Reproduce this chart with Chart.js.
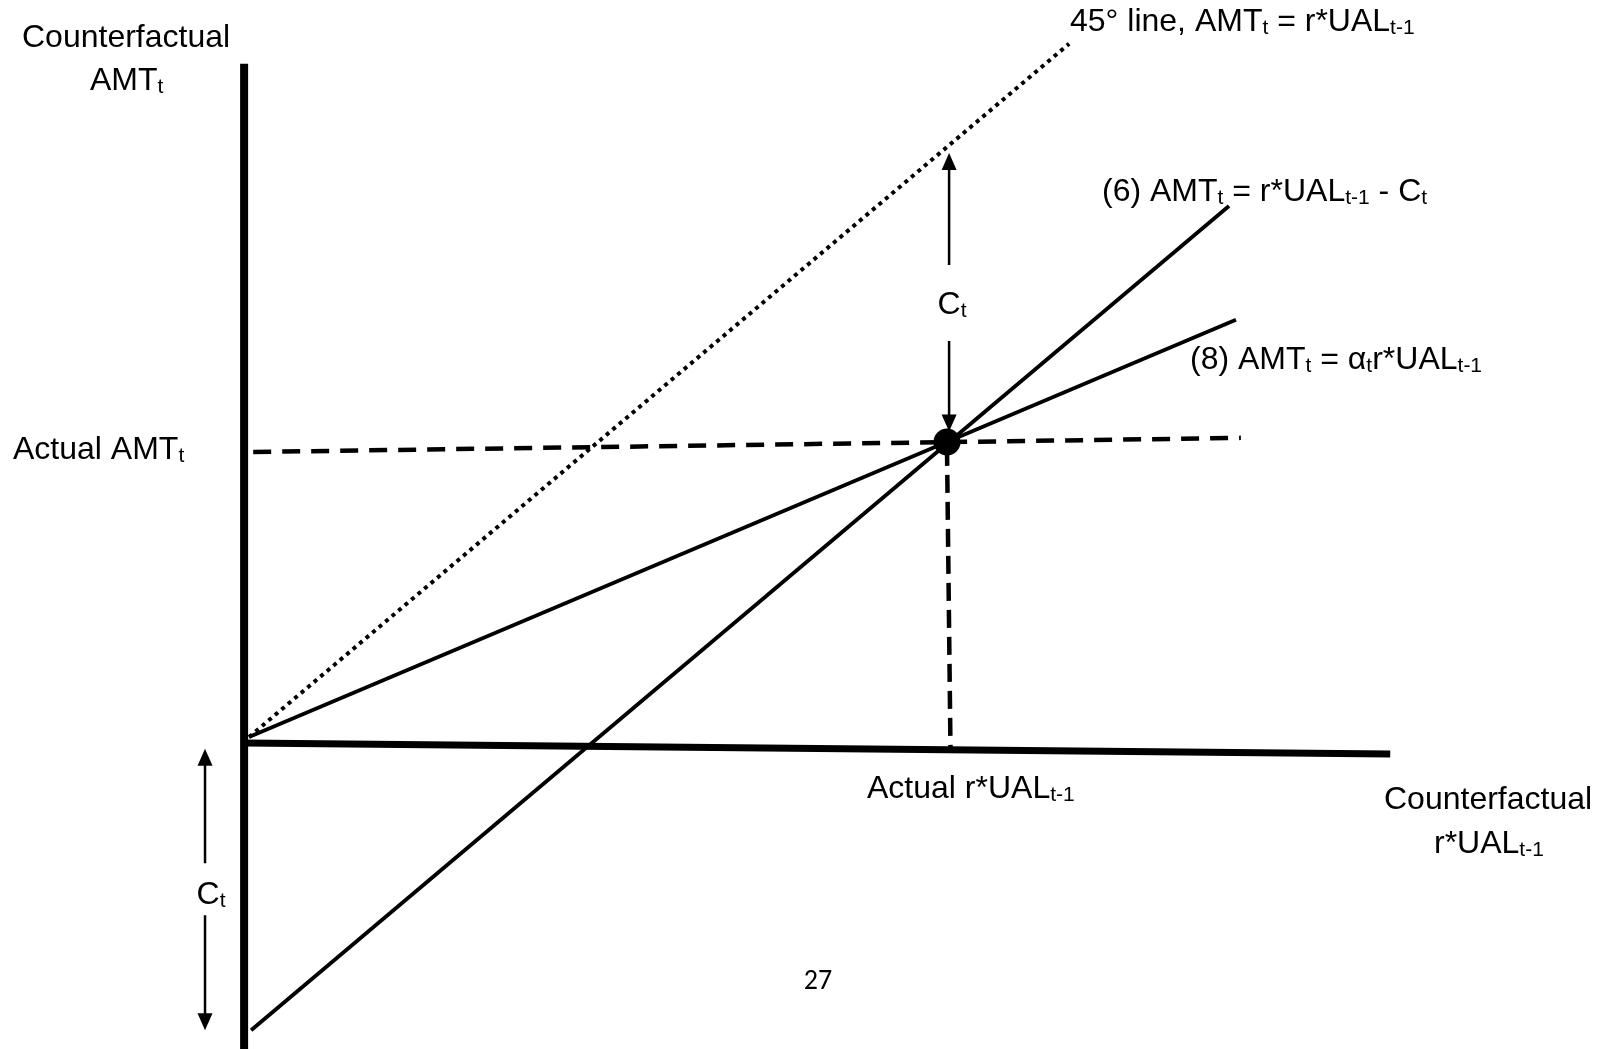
<!DOCTYPE html>
<html><head><meta charset="utf-8">
<script src="https://cdn.jsdelivr.net/npm/chart.js@4.4.0/dist/chart.umd.min.js"></script>
<style>html,body{margin:0;padding:0;background:#fff;overflow:hidden}#wrap{width:1608px;height:1049px;position:relative}</style>
</head><body><div id="wrap"><canvas id="c" width="1608" height="1049"></canvas></div>
<script>
// Diagram values (x = r*UAL(t-1), y = AMT(t))
const actualRUAL = 10;
const actualAMT = 5;
const line45X = [0, 11.75];
const line45Y = [0, 11.75];
const line6X = [0.03, 14.04];
const line6Y = [-4.97, 9.0];
const line8X = [0, 14.14];
const line8Y = [0, 7.07];
const yAxisX = [-0.07, -0.07];
const yAxisY = [11.41, -5.3];
const xAxisX = [-0.07, 16.35];
const xAxisY = [-0.1, -0.29];
const amtGuideX = [0.06, 14.21];
const amtGuideY = [4.83, 5.07];
const rualGuideX = [10, 10.05];
const rualGuideY = [4.9, -0.2];
// double-headed arrows: x, top tip, bottom tip, label gap top/bottom
const arrowUpperX = 10.03, arrowUpperY = [9.9, 5.18], arrowUpperGap = [8.0, 6.71];
const arrowLeftX = -0.63, arrowLeftY = [-0.2, -4.97], arrowLeftGap = [-2.14, -3.02];

const pts = (xs, ys) => xs.map((x, i) => ({x, y: ys[i]}));

const FONT = '"Liberation Sans", Arial, sans-serif';
// labels: segments [text, isSub], pixel anchor, align
const labels = [
  {segs: [['Counterfactual', 0]], x: 22, y: 47, align: 'left'},
  {segs: [['AMT', 0], ['t', 1]], x: 90, y: 90, align: 'left'},
  {segs: [['45° line, AMT', 0], ['t', 1], [' = r*UAL', 0], ['t-1', 1]], x: 1070, y: 31, align: 'left'},
  {segs: [['(6) AMT', 0], ['t', 1], [' = r*UAL', 0], ['t-1', 1], [' - C', 0], ['t', 1]], x: 1102, y: 201, align: 'left'},
  {segs: [['C', 0], ['t', 1]], x: 952, y: 314, align: 'center'},
  {segs: [['(8) AMT', 0], ['t', 1], [' = α', 0], ['t', 1], ['r*UAL', 0], ['t-1', 1]], x: 1190, y: 369, align: 'left'},
  {segs: [['Actual AMT', 0], ['t', 1]], x: 13, y: 459, align: 'left'},
  {segs: [['Actual r*UAL', 0], ['t-1', 1]], x: 867, y: 798, align: 'left'},
  {segs: [['Counterfactual', 0]], x: 1384, y: 809, align: 'left'},
  {segs: [['r*UAL', 0], ['t-1', 1]], x: 1434, y: 853, align: 'left'},
  {segs: [['C', 0], ['t', 1]], x: 211, y: 904, align: 'center'},
];
const pageNumber = '27';

function drawRich(ctx, segs, x, y, align) {
  let w = 0;
  segs.forEach(([t, s]) => { ctx.font = (s ? '21px ' : '32px ') + FONT; w += ctx.measureText(t).width; });
  let cx = align === 'center' ? x - w / 2 : (align === 'right' ? x - w : x);
  ctx.textAlign = 'left'; ctx.textBaseline = 'alphabetic';
  segs.forEach(([t, s]) => {
    ctx.font = (s ? '21px ' : '32px ') + FONT;
    ctx.fillText(t, cx, s ? y + 3 : y);
    cx += ctx.measureText(t).width;
  });
}

function head(ctx, x, y, dir) {
  const hw = 7.5, hl = 17;
  ctx.beginPath();
  ctx.moveTo(x, y);
  ctx.lineTo(x - hw, y - dir * hl);
  ctx.lineTo(x + hw, y - dir * hl);
  ctx.closePath();
  ctx.fill();
}

const overlay = {
  id: 'overlay',
  afterDatasetsDraw(chart) {
    const ctx = chart.ctx, xs = chart.scales.x, ys = chart.scales.y;
    ctx.save();
    ctx.fillStyle = '#000'; ctx.strokeStyle = '#000'; ctx.lineWidth = 2.5;
    [[arrowUpperX, arrowUpperY, arrowUpperGap], [arrowLeftX, arrowLeftY, arrowLeftGap]].forEach(([ax, ay, gap]) => {
      const px = xs.getPixelForValue(ax);
      const t = ys.getPixelForValue(ay[0]), b = ys.getPixelForValue(ay[1]);
      const g1 = ys.getPixelForValue(gap[0]), g2 = ys.getPixelForValue(gap[1]);
      ctx.beginPath();
      ctx.moveTo(px, t + 14); ctx.lineTo(px, g1);
      ctx.moveTo(px, g2); ctx.lineTo(px, b - 14);
      ctx.stroke();
      head(ctx, px, t, -1);
      head(ctx, px, b, 1);
    });
    ctx.fillStyle = '#000';
    labels.forEach(l => drawRich(ctx, l.segs, l.x, l.y, l.align));
    ctx.font = '28px Carlito, Lato, sans-serif';
    ctx.textAlign = 'center'; ctx.textBaseline = 'alphabetic';
    ctx.fillText(pageNumber, 818, 989);
    ctx.restore();
  }
};

const solid = (data, w) => ({data, showLine: true, borderColor: '#000', borderWidth: w, pointRadius: 0, borderCapStyle: 'butt', fill: false, tension: 0});

new Chart(document.getElementById('c'), {
  type: 'scatter',
  data: {
    datasets: [
      {data: [{x: actualRUAL, y: actualAMT}], pointRadius: 13.5, pointBackgroundColor: '#000', pointBorderColor: '#000', pointBorderWidth: 0, showLine: false},
      solid(pts(line6X, line6Y), 3.8),
      solid(pts(line8X, line8Y), 3.8),
      Object.assign(solid(pts(line45X, line45Y), 4), {borderDash: [4, 4.5]}),
      Object.assign(solid(pts(amtGuideX, amtGuideY), 4.5), {borderDash: [18, 11]}),
      Object.assign(solid(pts(rualGuideX, rualGuideY), 4.5), {borderDash: [18, 9]}),
      solid(pts(xAxisX, xAxisY), 7),
      solid(pts(yAxisX, yAxisY), 8),
    ]
  },
  options: {
    responsive: false, animation: false, events: [],
    layout: {padding: 0, autoPadding: false},
    plugins: {legend: {display: false}, tooltip: {enabled: false}},
    scales: {
      x: {type: 'linear', display: false, min: -249 / 69.8, max: (1608 - 249) / 69.8},
      y: {type: 'linear', display: false, min: (737 - 1049) / 59, max: 737 / 59}
    }
  },
  plugins: [overlay]
});
</script></body></html>
